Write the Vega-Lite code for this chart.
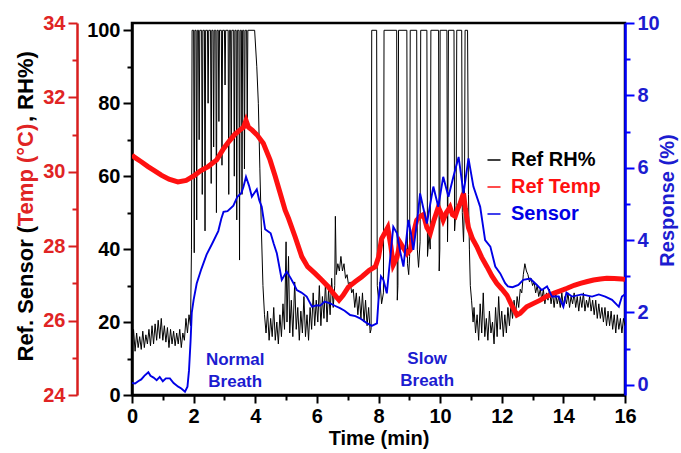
{
"$schema": "https://vega.github.io/schema/vega-lite/v6.json",
"width": 493, "height": 372,
"autosize": {"type": "none"},
"padding": {"left": 132, "top": 23, "right": 56, "bottom": 58},
"config": {
  "font": "Liberation Sans",
  "view": {"stroke": "black", "strokeWidth": 2.5},
  "axis": {"labelFont": "Liberation Sans", "labelFontWeight": "bold", "labelFontSize": 20, "titleFont": "Liberation Sans", "titleFontWeight": "bold", "titleFontSize": 20, "grid": false, "domainWidth": 2.5, "tickWidth": 2, "labelOverlap": false, "labelFlush": false, "labelBound": false}
},
"datasets": {
"rh": [
{"t":0,"v":14},{"t":0.05,"v":18},{"t":0.1,"v":12},{"t":0.15,"v":17},{"t":0.2,"v":13},{"t":0.25,"v":16},{"t":0.3,"v":12.5},{"t":0.35,"v":17.5},{"t":0.4,"v":13},{"t":0.45,"v":16.5},{"t":0.5,"v":14},{"t":0.55,"v":18},{"t":0.6,"v":13.5},{"t":0.65,"v":19},{"t":0.7,"v":14},{"t":0.75,"v":19.5},{"t":0.8,"v":15},{"t":0.85,"v":20.5},{"t":0.9,"v":15.5},{"t":0.95,"v":21},{"t":1.0,"v":15},{"t":1.05,"v":19},{"t":1.1,"v":14.5},{"t":1.15,"v":18.5},{"t":1.2,"v":13},{"t":1.25,"v":18},{"t":1.3,"v":14},{"t":1.35,"v":17.5},{"t":1.4,"v":13.5},{"t":1.45,"v":17},{"t":1.5,"v":14},{"t":1.55,"v":18},{"t":1.6,"v":13},{"t":1.65,"v":17},{"t":1.7,"v":15},{"t":1.75,"v":21},{"t":1.8,"v":17},{"t":1.85,"v":22},{"t":1.9,"v":19},
{"t":1.93,"v":40},{"t":1.95,"v":100},{"t":2.0,"v":100},{"t":2.02,"v":39},{"t":2.04,"v":100},{"t":2.08,"v":100},{"t":2.1,"v":48},{"t":2.12,"v":100},{"t":2.16,"v":100},{"t":2.18,"v":70},{"t":2.2,"v":100},{"t":2.26,"v":100},{"t":2.28,"v":55},{"t":2.3,"v":100},{"t":2.35,"v":100},{"t":2.37,"v":45},{"t":2.39,"v":100},{"t":2.45,"v":100},{"t":2.47,"v":80},{"t":2.49,"v":100},{"t":2.55,"v":100},{"t":2.57,"v":58},{"t":2.59,"v":100},{"t":2.63,"v":100},{"t":2.65,"v":68},{"t":2.67,"v":100},{"t":2.72,"v":100},{"t":2.74,"v":50},{"t":2.76,"v":100},{"t":2.8,"v":100},{"t":2.82,"v":75},{"t":2.84,"v":100},{"t":2.9,"v":100},{"t":2.92,"v":63},{"t":2.94,"v":100},{"t":3.0,"v":100},{"t":3.02,"v":85},{"t":3.04,"v":100},{"t":3.12,"v":100},{"t":3.14,"v":55},{"t":3.16,"v":100},{"t":3.2,"v":100},{"t":3.22,"v":70},{"t":3.24,"v":100},{"t":3.3,"v":100},{"t":3.32,"v":60},{"t":3.34,"v":100},{"t":3.38,"v":100},{"t":3.4,"v":48},{"t":3.42,"v":100},{"t":3.47,"v":100},{"t":3.49,"v":37},{"t":3.51,"v":100},{"t":3.55,"v":100},{"t":3.57,"v":55},{"t":3.59,"v":100},{"t":3.63,"v":100},{"t":3.65,"v":62},{"t":3.67,"v":100},{"t":3.72,"v":100},{"t":3.74,"v":75},{"t":3.76,"v":100},{"t":3.98,"v":100},{"t":4.05,"v":90},{"t":4.1,"v":80},{"t":4.15,"v":62},{"t":4.2,"v":45},{"t":4.25,"v":30},
{"t":4.3,"v":22},{"t":4.35,"v":17},{"t":4.4,"v":23},{"t":4.45,"v":15},{"t":4.5,"v":21},{"t":4.55,"v":16},{"t":4.6,"v":24},{"t":4.65,"v":15},{"t":4.7,"v":20},{"t":4.75,"v":14},{"t":4.8,"v":22},{"t":4.85,"v":16},{"t":4.9,"v":25},{"t":4.95,"v":18},{"t":5.0,"v":42},{"t":5.03,"v":20},{"t":5.08,"v":38},{"t":5.12,"v":17},{"t":5.17,"v":26},{"t":5.22,"v":16},{"t":5.28,"v":31},{"t":5.33,"v":18},{"t":5.38,"v":24},{"t":5.43,"v":15},{"t":5.48,"v":23},{"t":5.53,"v":17},{"t":5.58,"v":27},{"t":5.63,"v":16},{"t":5.68,"v":22},{"t":5.73,"v":15},{"t":5.78,"v":24},{"t":5.83,"v":18},{"t":5.88,"v":28},{"t":5.93,"v":19},{"t":5.98,"v":26},{"t":6.03,"v":20},{"t":6.08,"v":30},{"t":6.13,"v":19},{"t":6.18,"v":27},{"t":6.23,"v":21},{"t":6.28,"v":31},{"t":6.33,"v":20},{"t":6.38,"v":29},{"t":6.43,"v":22},{"t":6.48,"v":32},{"t":6.53,"v":24},{"t":6.58,"v":30},{"t":6.6,"v":49},{"t":6.63,"v":33},{"t":6.68,"v":36},{"t":6.73,"v":34},{"t":6.78,"v":38},{"t":6.83,"v":34},{"t":6.88,"v":36},{"t":6.93,"v":32},{"t":6.98,"v":33},{"t":7.03,"v":30},{"t":7.08,"v":31},{"t":7.13,"v":28},{"t":7.18,"v":29},{"t":7.23,"v":24},{"t":7.28,"v":28},{"t":7.33,"v":22},{"t":7.38,"v":27},{"t":7.43,"v":21},{"t":7.48,"v":28},{"t":7.53,"v":20},{"t":7.58,"v":26},{"t":7.63,"v":19},{"t":7.68,"v":24},{"t":7.73,"v":17},{"t":7.76,"v":18},
{"t":7.78,"v":100},{"t":7.94,"v":100},{"t":7.96,"v":30},{"t":8.0,"v":26},{"t":8.05,"v":31},{"t":8.1,"v":25},{"t":8.16,"v":28},{"t":8.18,"v":100},{"t":8.59,"v":100},{"t":8.61,"v":26},{"t":8.63,"v":30},{"t":8.65,"v":100},{"t":8.92,"v":100},{"t":8.94,"v":36},{"t":8.98,"v":33},{"t":9.01,"v":38},{"t":9.03,"v":100},{"t":9.24,"v":100},{"t":9.26,"v":40},{"t":9.3,"v":35},{"t":9.35,"v":42},{"t":9.37,"v":100},{"t":9.57,"v":100},{"t":9.59,"v":38},{"t":9.64,"v":44},{"t":9.68,"v":40},{"t":9.7,"v":100},{"t":9.95,"v":100},{"t":9.97,"v":34},{"t":9.99,"v":40},{"t":10.0,"v":100},{"t":10.22,"v":100},{"t":10.24,"v":42},{"t":10.25,"v":48},{"t":10.27,"v":100},{"t":10.45,"v":100},{"t":10.47,"v":45},{"t":10.52,"v":52},{"t":10.54,"v":100},{"t":10.7,"v":100},{"t":10.72,"v":50},{"t":10.76,"v":42},{"t":10.79,"v":53},{"t":10.81,"v":100},{"t":10.89,"v":100},{"t":10.92,"v":55},{"t":10.95,"v":40},{"t":10.98,"v":30},{"t":11.02,"v":26},{"t":11.07,"v":20},
{"t":11.1,"v":24},{"t":11.15,"v":17},{"t":11.2,"v":22},{"t":11.25,"v":15},{"t":11.3,"v":25},{"t":11.35,"v":17},{"t":11.4,"v":28},{"t":11.45,"v":16},{"t":11.5,"v":21},{"t":11.55,"v":15},{"t":11.6,"v":23},{"t":11.65,"v":17},{"t":11.7,"v":20},{"t":11.75,"v":14},{"t":11.8,"v":24},{"t":11.85,"v":16},{"t":11.9,"v":27},{"t":11.95,"v":18},{"t":12.0,"v":23},{"t":12.05,"v":16},{"t":12.1,"v":22},{"t":12.15,"v":17},{"t":12.2,"v":24},{"t":12.25,"v":19},{"t":12.3,"v":25},{"t":12.35,"v":21},{"t":12.4,"v":26},{"t":12.45,"v":22},{"t":12.5,"v":27},{"t":12.55,"v":24},{"t":12.6,"v":29},{"t":12.65,"v":28},{"t":12.7,"v":33},{"t":12.75,"v":36},{"t":12.8,"v":34},{"t":12.85,"v":33},{"t":12.9,"v":31},{"t":12.95,"v":32},{"t":13.0,"v":30},{"t":13.05,"v":31},{"t":13.1,"v":28},{"t":13.15,"v":30},{"t":13.2,"v":27},{"t":13.25,"v":29},{"t":13.3,"v":26},{"t":13.35,"v":29},{"t":13.4,"v":25},{"t":13.45,"v":28},{"t":13.5,"v":26},{"t":13.55,"v":29},{"t":13.6,"v":25},{"t":13.65,"v":28},{"t":13.7,"v":24},{"t":13.75,"v":28},{"t":13.8,"v":25},{"t":13.85,"v":27},{"t":13.9,"v":24},{"t":13.95,"v":28},{"t":14.0,"v":24},{"t":14.05,"v":27},{"t":14.1,"v":25},{"t":14.15,"v":28},{"t":14.2,"v":24},{"t":14.25,"v":27},{"t":14.3,"v":25},{"t":14.35,"v":28},{"t":14.4,"v":24},{"t":14.45,"v":27},{"t":14.5,"v":23},{"t":14.55,"v":27},{"t":14.6,"v":24},{"t":14.65,"v":28},{"t":14.7,"v":23},{"t":14.75,"v":26},{"t":14.8,"v":24},{"t":14.85,"v":27},{"t":14.9,"v":23},{"t":14.95,"v":26},{"t":15.0,"v":22},{"t":15.05,"v":26},{"t":15.1,"v":21},{"t":15.15,"v":25},{"t":15.2,"v":21},{"t":15.25,"v":24},{"t":15.3,"v":20},{"t":15.35,"v":24},{"t":15.4,"v":19},{"t":15.45,"v":23},{"t":15.5,"v":19},{"t":15.55,"v":23},{"t":15.6,"v":18},{"t":15.65,"v":22},{"t":15.7,"v":17},{"t":15.75,"v":22},{"t":15.8,"v":18},{"t":15.85,"v":21},{"t":15.9,"v":17},{"t":15.95,"v":21},{"t":16.0,"v":19}
],
"temp": [
{"t":0,"v":30.45},{"t":0.1,"v":30.38},{"t":0.3,"v":30.27},{"t":0.52,"v":30.14},{"t":0.75,"v":30.02},{"t":0.95,"v":29.91},{"t":1.2,"v":29.8},{"t":1.49,"v":29.73},{"t":1.76,"v":29.77},{"t":2.03,"v":29.9},{"t":2.21,"v":30.02},{"t":2.47,"v":30.14},{"t":2.75,"v":30.32},{"t":2.97,"v":30.62},{"t":3.15,"v":30.82},{"t":3.33,"v":31.0},{"t":3.5,"v":31.12},{"t":3.62,"v":31.2},{"t":3.7,"v":31.38},{"t":3.78,"v":31.2},{"t":3.9,"v":31.12},{"t":4.05,"v":31.0},{"t":4.26,"v":30.77},{"t":4.48,"v":30.32},{"t":4.64,"v":29.9},{"t":4.8,"v":29.45},{"t":4.97,"v":28.97},{"t":5.08,"v":28.75},{"t":5.29,"v":28.26},{"t":5.51,"v":27.72},{"t":5.7,"v":27.45},{"t":5.94,"v":27.27},{"t":6.15,"v":27.1},{"t":6.37,"v":26.91},{"t":6.55,"v":26.72},{"t":6.72,"v":26.55},{"t":6.85,"v":26.68},{"t":7.02,"v":26.9},{"t":7.25,"v":27.05},{"t":7.46,"v":27.18},{"t":7.7,"v":27.35},{"t":7.9,"v":27.45},{"t":8.0,"v":27.7},{"t":8.1,"v":28.2},{"t":8.2,"v":28.35},{"t":8.3,"v":28.5},{"t":8.4,"v":28.0},{"t":8.48,"v":27.5},{"t":8.6,"v":27.7},{"t":8.7,"v":28.1},{"t":8.81,"v":27.95},{"t":8.92,"v":27.8},{"t":9.03,"v":27.9},{"t":9.15,"v":28.4},{"t":9.24,"v":28.7},{"t":9.35,"v":28.8},{"t":9.46,"v":28.85},{"t":9.57,"v":28.5},{"t":9.68,"v":28.35},{"t":9.8,"v":28.7},{"t":9.94,"v":29.05},{"t":10.02,"v":28.9},{"t":10.1,"v":28.7},{"t":10.2,"v":28.9},{"t":10.32,"v":29.05},{"t":10.4,"v":28.85},{"t":10.49,"v":28.8},{"t":10.57,"v":29.0},{"t":10.65,"v":29.15},{"t":10.76,"v":29.42},{"t":10.82,"v":29.0},{"t":10.92,"v":28.5},{"t":11.05,"v":28.2},{"t":11.19,"v":27.99},{"t":11.35,"v":27.7},{"t":11.52,"v":27.45},{"t":11.68,"v":27.2},{"t":11.84,"v":27.0},{"t":12.0,"v":26.85},{"t":12.17,"v":26.68},{"t":12.33,"v":26.4},{"t":12.49,"v":26.15},{"t":12.6,"v":26.2},{"t":12.81,"v":26.37},{"t":13.05,"v":26.47},{"t":13.25,"v":26.55},{"t":13.45,"v":26.65},{"t":13.68,"v":26.73},{"t":13.9,"v":26.8},{"t":14.12,"v":26.87},{"t":14.35,"v":26.95},{"t":14.55,"v":27.0},{"t":14.78,"v":27.05},{"t":14.98,"v":27.09},{"t":15.2,"v":27.12},{"t":15.41,"v":27.14},{"t":15.65,"v":27.13},{"t":15.9,"v":27.12},{"t":16.0,"v":27.1}
],
"sensor": [
{"t":0,"v":0.05},{"t":0.1,"v":0.04},{"t":0.2,"v":0.1},{"t":0.3,"v":0.15},{"t":0.4,"v":0.25},{"t":0.53,"v":0.35},{"t":0.6,"v":0.25},{"t":0.7,"v":0.2},{"t":0.8,"v":0.13},{"t":0.9,"v":0.22},{"t":1.0,"v":0.1},{"t":1.1,"v":0.18},{"t":1.23,"v":0.18},{"t":1.35,"v":0.05},{"t":1.5,"v":-0.05},{"t":1.6,"v":-0.1},{"t":1.72,"v":-0.19},{"t":1.8,"v":-0.05},{"t":1.85,"v":0.4},{"t":1.9,"v":1.2},{"t":1.94,"v":2.0},{"t":2.0,"v":2.35},{"t":2.1,"v":2.8},{"t":2.25,"v":3.2},{"t":2.42,"v":3.6},{"t":2.6,"v":3.9},{"t":2.8,"v":4.25},{"t":2.9,"v":4.6},{"t":2.97,"v":4.78},{"t":3.1,"v":4.8},{"t":3.29,"v":4.95},{"t":3.42,"v":5.2},{"t":3.55,"v":5.3},{"t":3.62,"v":5.48},{"t":3.7,"v":5.75},{"t":3.8,"v":5.5},{"t":3.89,"v":5.2},{"t":3.97,"v":5.3},{"t":4.05,"v":5.4},{"t":4.13,"v":5.1},{"t":4.21,"v":4.92},{"t":4.32,"v":4.3},{"t":4.5,"v":4.19},{"t":4.6,"v":3.9},{"t":4.7,"v":3.64},{"t":4.86,"v":2.9},{"t":5.02,"v":3.13},{"t":5.15,"v":2.95},{"t":5.24,"v":2.81},{"t":5.35,"v":2.62},{"t":5.5,"v":2.55},{"t":5.67,"v":2.44},{"t":5.84,"v":2.16},{"t":6.0,"v":2.2},{"t":6.11,"v":2.19},{"t":6.25,"v":2.3},{"t":6.43,"v":2.25},{"t":6.6,"v":2.18},{"t":6.75,"v":2.12},{"t":6.9,"v":2.05},{"t":7.08,"v":1.93},{"t":7.25,"v":1.9},{"t":7.4,"v":1.84},{"t":7.6,"v":1.72},{"t":7.78,"v":1.63},{"t":7.95,"v":1.7},{"t":8.0,"v":2.35},{"t":8.08,"v":3.0},{"t":8.16,"v":2.9},{"t":8.27,"v":2.53},{"t":8.38,"v":3.5},{"t":8.48,"v":4.37},{"t":8.6,"v":4.19},{"t":8.7,"v":3.7},{"t":8.81,"v":3.27},{"t":8.97,"v":4.56},{"t":9.05,"v":4.2},{"t":9.13,"v":3.73},{"t":9.25,"v":4.5},{"t":9.35,"v":5.29},{"t":9.45,"v":4.9},{"t":9.57,"v":4.46},{"t":9.68,"v":5.0},{"t":9.78,"v":5.48},{"t":9.94,"v":4.92},{"t":10.1,"v":5.75},{"t":10.27,"v":5.2},{"t":10.43,"v":5.75},{"t":10.6,"v":6.3},{"t":10.76,"v":5.29},{"t":10.92,"v":6.26},{"t":11.08,"v":5.48},{"t":11.3,"v":4.92},{"t":11.46,"v":4.0},{"t":11.63,"v":3.82},{"t":11.79,"v":3.27},{"t":11.95,"v":3.08},{"t":12.11,"v":2.81},{"t":12.2,"v":2.72},{"t":12.35,"v":2.7},{"t":12.54,"v":2.76},{"t":12.7,"v":2.9},{"t":12.92,"v":2.94},{"t":13.14,"v":2.76},{"t":13.3,"v":2.62},{"t":13.47,"v":2.72},{"t":13.63,"v":2.44},{"t":13.85,"v":2.44},{"t":14.0,"v":2.16},{"t":14.1,"v":2.55},{"t":14.28,"v":2.44},{"t":14.6,"v":2.5},{"t":14.93,"v":2.44},{"t":15.15,"v":2.5},{"t":15.36,"v":2.44},{"t":15.58,"v":2.35},{"t":15.74,"v":2.21},{"t":15.8,"v":2.16},{"t":15.9,"v":2.44},{"t":16.0,"v":2.5}
],
"notes": [
{"t":3.35,"y":9.6,"label":"Normal\nBreath"},
{"t":9.58,"y":10,"label":"Slow\nBreath"}
]
},
"encoding": {
  "x": {"field": "t", "type": "quantitative", "title": "Time (min)",
    "scale": {"domain": [0, 16], "nice": false, "zero": false},
    "axis": {"values": [0,1,2,3,4,5,6,7,8,9,10,11,12,13,14,15,16],
      "labelExpr": "datum.value % 2 === 0 ? datum.label : ''",
      "tickSize": {"condition": {"test": "datum.value % 2 === 0", "value": 8}, "value": 5},
      "domainColor": "black", "tickColor": "black", "labelColor": "black", "titleColor": "black",
      "labelPadding": 3, "titlePadding": 2}}
},
"layer": [
{
  "data": {"name": "rh"},
  "mark": {"type": "line", "strokeWidth": 1, "clip": true},
  "encoding": {
    "y": {"field": "v", "type": "quantitative",
      "scale": {"domain": [0, 102], "nice": false, "zero": false},
      "axis": {"orient": "left", "offset": 0, "values": [0,10,20,30,40,50,60,70,80,90,100],
        "labelExpr": "datum.value % 20 === 0 ? datum.label : ''",
        "tickSize": {"condition": {"test": "datum.value % 20 === 0", "value": 9}, "value": 5},
        "labelPadding": 3, "domainColor": "black", "tickColor": "black", "labelColor": "black",
        "title": "Ref. Sensor (", "titleColor": "black", "titleFontSize": 22, "titleAngle": 270,
        "titleAlign": "left", "titleBaseline": "middle", "titleX": -107, "titleY": 338}},
    "color": {"datum": "Ref RH%", "type": "nominal",
      "scale": {"domain": ["Ref RH%", "Ref Temp", "Sensor"], "range": ["black", "#ff1010", "#0000e6"]},
      "legend": {"orient": "none", "legendX": 352, "legendY": 127, "title": null,
        "symbolType": "stroke", "symbolSize": 170, "symbolStrokeWidth": 1.5,
        "labelFont": "Liberation Sans", "labelFontWeight": "bold", "labelFontSize": 20,
        "rowPadding": 7, "labelOffset": 7, "padding": 0,
        "encode": {"labels": {"update": {"fill": {"scale": "color", "field": "value"}}}}}}
  }
},
{
  "data": {"name": "temp"},
  "mark": {"type": "line", "strokeWidth": 5, "clip": true},
  "encoding": {
    "y": {"field": "v", "type": "quantitative",
      "scale": {"domain": [24, 34], "nice": false, "zero": false},
      "axis": {"orient": "left", "offset": 55, "values": [24,25,26,27,28,29,30,31,32,33,34],
        "labelExpr": "datum.value % 2 === 0 ? datum.label : ''",
        "tickSize": {"condition": {"test": "datum.value % 2 === 0", "value": 9}, "value": 5},
        "labelPadding": 3, "domainColor": "#d81e1e", "tickColor": "#d81e1e", "labelColor": "#e02424",
        "title": "Temp (°C)", "titleColor": "#e02424", "titleFontSize": 22, "titleAngle": 270,
        "titleAlign": "left", "titleBaseline": "middle", "titleX": -52, "titleY": 202.7}},
    "color": {"datum": "Ref Temp", "type": "nominal"}
  }
},
{
  "data": {"name": "sensor"},
  "mark": {"type": "line", "strokeWidth": 1.9, "clip": true},
  "encoding": {
    "y": {"field": "v", "type": "quantitative",
      "scale": {"domain": [-0.28, 10], "nice": false, "zero": false},
      "axis": {"orient": "right", "values": [0,1,2,3,4,5,6,7,8,9,10],
        "labelExpr": "datum.value % 2 === 0 ? datum.label : ''",
        "tickSize": {"condition": {"test": "datum.value % 2 === 0", "value": 9}, "value": 5},
        "labelPadding": 3, "domainColor": "#0000ff", "tickColor": "#0000ff", "labelColor": "#1c1cd0",
        "title": "Response (%)", "titleColor": "#1c1cd0", "titleFontSize": 20, "titleAngle": 270,
        "titleAlign": "center", "titleBaseline": "middle", "titleX": 42, "titleY": 177}},
    "color": {"datum": "Sensor", "type": "nominal"}
  }
},
{
  "data": {"name": "notes"},
  "mark": {"type": "text", "lineBreak": "\n", "font": "Liberation Sans", "fontWeight": "bold", "fontSize": 17, "color": "#1c1cd0", "lineHeight": 22, "align": "center", "baseline": "middle"},
  "encoding": {
    "y": {"field": "y", "type": "quantitative",
      "scale": {"domain": [0, 102], "nice": false, "zero": false},
      "axis": {"orient": "left", "offset": 0, "labels": false, "ticks": false, "domain": false,
        "title": ", RH%)", "titleColor": "black", "titleFontSize": 22, "titleAngle": 270,
        "titleAlign": "left", "titleBaseline": "middle", "titleX": -107, "titleY": 98.6}},
    "text": {"field": "label"}
  }
}
],
"resolve": {"scale": {"y": "independent"}}
}
